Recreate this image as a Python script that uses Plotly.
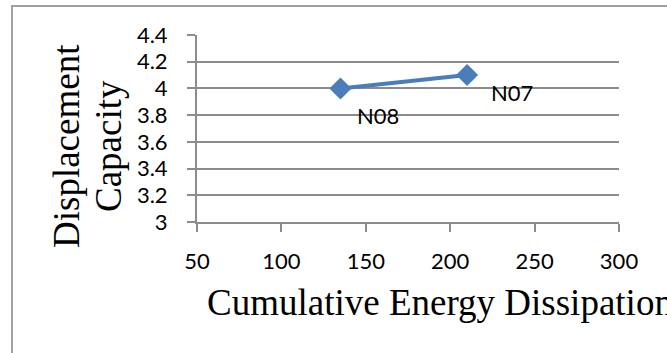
import plotly.graph_objects as go

# data
energy = [135, 210]
capacity = [4.0, 4.1]
labels = ["N08", "N07"]
x_ticks = [50, 100, 150, 200, 250, 300]
y_ticks = [3, 3.2, 3.4, 3.6, 3.8, 4, 4.2, 4.4]
y_tick_text = ["3", "3.2", "3.4", "3.6", "3.8", "4", "4.2", "4.4"]

W, H = 667, 353
L, R, T, B = 197, 619, 35, 222
pw, ph = R - L, B - T

def px_x(p):
    return (p - L) / pw

def px_y(p):
    return (B - p) / ph

fig = go.Figure()
fig.add_trace(go.Scatter(
    x=energy, y=capacity, mode="lines+markers",
    line=dict(color="#4a7ebb", width=4),
    marker=dict(symbol="diamond", size=17, color="#4a7ebb"),
    showlegend=False, cliponaxis=False,
))

label_font = dict(family="Lato", size=22, color="#000000")
shifts = [(38, -27), (45, -17)]
for xv, yv, t, (dx, dy) in zip(energy, capacity, labels, shifts):
    fig.add_annotation(x=xv, y=yv, text=t, showarrow=False, xref="x", yref="y",
                       xshift=dx, yshift=dy, font=label_font)

axis_font = dict(family="Lato", size=22, color="#000000")
fig.update_xaxes(
    range=[50, 300], tickvals=x_ticks, showgrid=False, zeroline=False,
    showline=True, linecolor="#8c8c8c", linewidth=2,
    ticks="outside", ticklen=8, tickcolor="#8c8c8c", tickwidth=2,
    tickfont=axis_font, ticklabelstandoff=11,
)
fig.update_yaxes(
    range=[3, 4.4], tickvals=y_ticks, ticktext=y_tick_text,
    showgrid=True, gridcolor="#8c8c8c", gridwidth=2, zeroline=False,
    showline=True, linecolor="#8c8c8c", linewidth=2,
    ticks="outside", ticklen=8, tickcolor="#8c8c8c", tickwidth=2,
    tickfont=axis_font, ticklabelstandoff=15,
)

title_font = dict(family="Liberation Serif", size=37, color="#000000")
fig.add_annotation(text="Cumulative Energy Dissipation", showarrow=False,
                   xref="paper", yref="paper", x=px_x(205), y=px_y(302),
                   xanchor="left", yanchor="middle", font=title_font)
for txt, cx in [("Displacement", 66), ("Capacity", 108)]:
    fig.add_annotation(text=txt, showarrow=False, textangle=-90,
                       xref="paper", yref="paper", x=px_x(cx), y=px_y(146),
                       xanchor="center", yanchor="middle", font=title_font)

# outer chart border
fig.add_shape(type="rect", xref="paper", yref="paper",
              x0=px_x(12), x1=px_x(W + 20), y0=px_y(H + 20), y1=px_y(6),
              line=dict(color="#a0a0a0", width=2), fillcolor="rgba(0,0,0,0)", layer="below")

fig.update_layout(
    width=W, height=H,
    margin=dict(l=L, r=W - R, t=T, b=H - B),
    paper_bgcolor="white", plot_bgcolor="white",
)
fig.write_html("out.html")
